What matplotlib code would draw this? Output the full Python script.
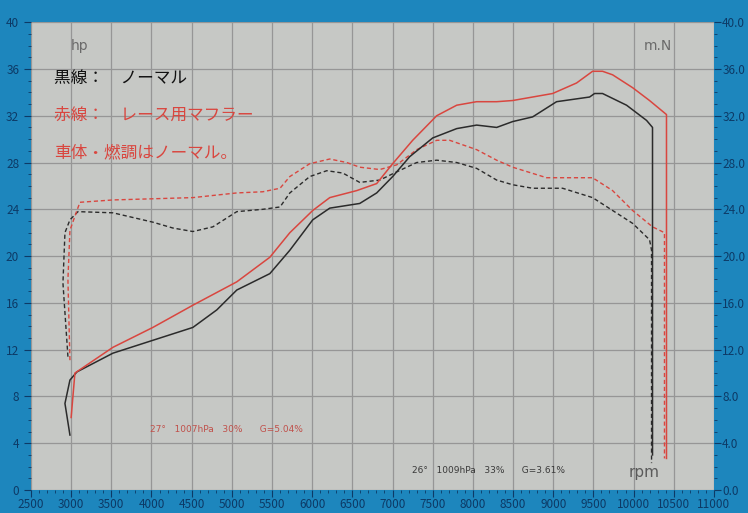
import numpy as np
import matplotlib
matplotlib.use("Agg")
import matplotlib.pyplot as plt
from matplotlib.ticker import MultipleLocator

plt.rcParams['font.family'] = ['Noto Sans CJK JP', 'DejaVu Sans']

# black solid: hp, normal muffler
bk_hp_rpm = [2985, 2923, 2985, 3072, 3520, 4017, 4515, 4813, 5062, 5473, 5722, 6007, 6219,
             6592, 6803, 7002, 7214, 7500, 7799, 8047, 8296, 8495, 8744, 9042, 9453, 9515,
             9614, 9913, 10162, 10236, 10236, 10236]
bk_hp = [4.7, 7.4, 9.4, 10.1, 11.7, 12.8, 13.9, 15.4, 17.1, 18.5, 20.5, 23.1, 24.1,
         24.5, 25.4, 26.8, 28.5, 30.1, 30.9, 31.2, 31.0, 31.5, 31.9, 33.2, 33.6, 33.9,
         33.9, 32.9, 31.6, 31.0, 3.2, 3.0]

# red solid: hp, race muffler
rd_hp_rpm = [3000, 3047, 3520, 4017, 4515, 5062, 5473, 5722, 6007, 6219, 6555, 6803, 7002,
             7251, 7550, 7799, 8047, 8296, 8495, 8993, 9291, 9490, 9614, 9739, 9988, 10199,
             10410, 10410]
rd_hp = [6.2, 10.0, 12.2, 13.9, 15.8, 17.8, 19.9, 22.0, 23.9, 25.0, 25.6, 26.2, 27.9,
         29.9, 32.0, 32.9, 33.2, 33.2, 33.3, 33.9, 34.8, 35.8, 35.8, 35.5, 34.4, 33.3,
         32.1, 2.7]

# black dashed: torque, normal muffler
bk_tq_rpm = [2960, 2898, 2923, 2985, 3085, 3520, 4017, 4266, 4515, 4764, 5062, 5386, 5600,
             5722, 5970, 6182, 6381, 6592, 6841, 7052, 7301, 7550, 7799, 8047, 8296, 8495,
             8744, 9117, 9490, 9739, 9988, 10199, 10224, 10224]
bk_tq = [11.4, 17.7, 22.0, 23.1, 23.8, 23.7, 22.9, 22.4, 22.1, 22.5, 23.8, 24.0, 24.2,
         25.4, 26.8, 27.3, 27.1, 26.3, 26.5, 27.2, 28.0, 28.2, 28.0, 27.5, 26.5, 26.1,
         25.8, 25.8, 25.0, 23.9, 22.8, 21.4, 20.5, 2.3]

# red dashed: torque, race muffler
rd_tq_rpm = [2985, 2960, 2985, 3072, 3110, 3520, 4515, 5062, 5386, 5600, 5722, 5970, 6219,
             6430, 6592, 6841, 7052, 7301, 7550, 7711, 8047, 8296, 8495, 8918, 9167, 9490,
             9739, 9988, 10236, 10385, 10385]
rd_tq = [11.1, 18.0, 22.2, 23.9, 24.6, 24.8, 25.0, 25.4, 25.5, 25.8, 26.8, 27.9, 28.3,
         28.0, 27.6, 27.4, 27.8, 29.1, 29.9, 29.9, 29.1, 28.2, 27.6, 26.7, 26.7, 26.7,
         25.6, 23.9, 22.5, 22.0, 2.7]

x_ticks = list(range(2500, 11001, 500))
y_ticks = list(range(0, 41, 4))

bg = '#1d86bd'
plot_bg = '#c6c8c5'
tick_col = '#0d3a66'
black = '#2b2b2b'
red = '#d9463f'

fig = plt.figure(figsize=(7.48, 5.13), dpi=100, facecolor=bg)
ax = fig.add_axes([0.0414, 0.0448, 0.913, 0.912])
ax.set_facecolor(plot_bg)

ax.plot(bk_tq_rpm, bk_tq, '--', color=black, lw=1.0, dashes=(3, 2))
ax.plot(rd_tq_rpm, rd_tq, '--', color=red, lw=1.0, dashes=(3, 2))
ax.plot(bk_hp_rpm, bk_hp, '-', color=black, lw=1.1)
ax.plot(rd_hp_rpm, rd_hp, '-', color=red, lw=1.1)

ax.set_xlim(2500, 11000)
ax.set_ylim(0, 40)
ax.set_xticks(x_ticks)
ax.set_yticks(y_ticks)
ax.xaxis.set_minor_locator(MultipleLocator(100))
ax.yaxis.set_minor_locator(MultipleLocator(1))
ax.grid(True, which='major', color='#969696', lw=0.9)
for s in ax.spines.values():
    s.set_visible(False)
ax.tick_params(axis='both', colors=tick_col, labelsize=8.5, length=5, width=0.8)
ax.tick_params(which='minor', colors=tick_col, length=2.5, width=0.6)
ax.tick_params(axis='x', pad=1)

# right axis, N.m
ax2 = ax.twinx()
ax2.set_ylim(0, 40)
ax2.set_yticks(y_ticks)
ax2.set_yticklabels([f'{v:.1f}' for v in y_ticks])
ax2.yaxis.set_minor_locator(MultipleLocator(1))
for s in ax2.spines.values():
    s.set_visible(False)
ax2.tick_params(axis='y', colors=tick_col, labelsize=8.5, length=5, width=0.8, pad=1)
ax2.tick_params(which='minor', colors=tick_col, length=2.5, width=0.6)

ax.text(0.058, 0.948, 'hp', transform=ax.transAxes, color='#6a6a6a', fontsize=10,
        ha='left', va='center', family='DejaVu Sans')
ax.text(0.918, 0.948, 'm.N', transform=ax.transAxes, color='#6a6a6a', fontsize=10,
        ha='center', va='center', family='DejaVu Sans')
ax.text(0.898, 0.038, 'rpm', transform=ax.transAxes, color='#5a5a5a', fontsize=11,
        ha='center', va='center', family='DejaVu Sans')

ax.text(0.034, 0.880, '黒線：　ノーマル', transform=ax.transAxes, color='#111111',
        fontsize=12, ha='left', va='center')
ax.text(0.034, 0.800, '赤線：　レース用マフラー', transform=ax.transAxes, color=red,
        fontsize=12, ha='left', va='center')
ax.text(0.034, 0.720, '車体・燃調はノーマル。', transform=ax.transAxes, color=red,
        fontsize=12, ha='left', va='center')

ax.text(0.174, 0.130, '27°   1007hPa   30%      G=5.04%', transform=ax.transAxes,
        color='#c0504a', fontsize=6.5, ha='left', va='center', family='DejaVu Sans')
ax.text(0.558, 0.042, '26°   1009hPa   33%      G=3.61%', transform=ax.transAxes,
        color='#3a3a3a', fontsize=6.5, ha='left', va='center', family='DejaVu Sans')

fig.savefig('out.png', dpi=100, facecolor=bg)
